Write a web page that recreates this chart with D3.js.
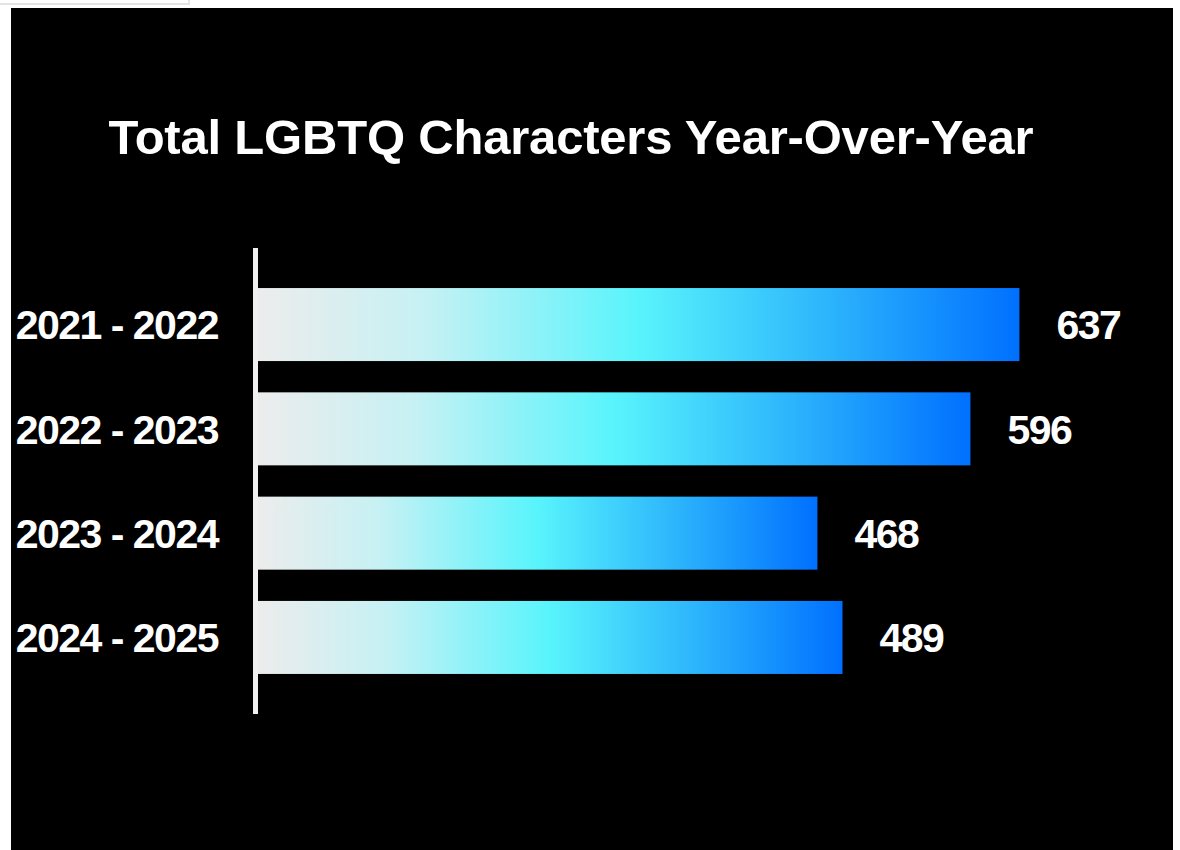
<!DOCTYPE html>
<html lang="en">
<head>
    <meta charset="UTF-8">
    <title>Total LGBTQ Characters Year-Over-Year</title>
    <script src="https://cdnjs.cloudflare.com/ajax/libs/d3/7.8.2/d3.min.js"></script>
    <style>
        body {
            margin: 0;
            padding: 0;
            background-color: #ffffff;
            font-family: "Liberation Sans", Arial, sans-serif;
        }
        .tab {
            position: absolute;
            left: 0;
            top: 0;
            width: 188px;
            height: 3px;
            border-right: 2px solid #e4e4e4;
            border-bottom: 2px solid #e4e4e4;
        }
        svg {
            position: absolute;
            left: 0;
            top: 0;
        }
        .label {
            fill: #ffffff;
            font-weight: 700;
            font-size: 41px;
            letter-spacing: -1.5px;
        }
        .title {
            fill: #ffffff;
            font-weight: 700;
            font-size: 49px;
            letter-spacing: -0.2px;
        }
    </style>
</head>
<body>
    <div class="tab"></div>
    <svg width="1180" height="850"></svg>

    <script>
        // data
        const periods = ["2021 - 2022", "2022 - 2023", "2023 - 2024", "2024 - 2025"];
        const totals = [637, 596, 468, 489];

        const svg = d3.select("svg");

        // black panel
        svg.append("rect")
            .attr("x", 11).attr("y", 8)
            .attr("width", 1162).attr("height", 842)
            .attr("fill", "#000000");

        const defs = svg.append("defs");
        const grad = defs.append("linearGradient")
            .attr("id", "barGrad")
            .attr("x1", "0%").attr("x2", "100%")
            .attr("y1", "0%").attr("y2", "0%");
        grad.append("stop").attr("offset", "0%").attr("stop-color", "#ececec");
        grad.append("stop").attr("offset", "22%").attr("stop-color", "#c6f1f4");
        grad.append("stop").attr("offset", "50%").attr("stop-color", "#58f4fc");
        grad.append("stop").attr("offset", "75%").attr("stop-color", "#2cb4fc");
        grad.append("stop").attr("offset", "100%").attr("stop-color", "#0070ff");

        const x = d3.scaleLinear()
            .domain([0, 640])
            .range([258, 1023]);

        const y = d3.scaleBand()
            .domain(periods)
            .range([248, 714])
            .paddingInner(0.3)
            .paddingOuter(0.384);

        const rows = periods.map((p, i) => ({ period: p, value: totals[i] }));

        // bars
        svg.append("g")
            .selectAll("rect")
            .data(rows)
            .enter().append("rect")
            .attr("x", x(0))
            .attr("y", d => y(d.period))
            .attr("width", d => x(d.value) - x(0))
            .attr("height", y.bandwidth())
            .attr("fill", "url(#barGrad)");

        // axis line
        svg.append("line")
            .attr("x1", 255.5).attr("x2", 255.5)
            .attr("y1", 248).attr("y2", 714)
            .attr("stroke", "#f0f0f0")
            .attr("stroke-width", 5);

        // category labels
        svg.append("g")
            .selectAll("text")
            .data(rows)
            .enter().append("text")
            .attr("class", "label")
            .attr("x", 218)
            .attr("y", d => y(d.period) + y.bandwidth() / 2)
            .attr("dy", "0.36em")
            .attr("text-anchor", "end")
            .text(d => d.period);

        // value labels
        svg.append("g")
            .selectAll("text")
            .data(rows)
            .enter().append("text")
            .attr("class", "label")
            .attr("x", d => x(d.value) + 37)
            .attr("y", d => y(d.period) + y.bandwidth() / 2)
            .attr("dy", "0.36em")
            .text(d => d.value);

        // title
        svg.append("text")
            .attr("class", "title")
            .attr("x", 571)
            .attr("y", 154)
            .attr("text-anchor", "middle")
            .text("Total LGBTQ Characters Year-Over-Year");
    </script>
</body>
</html>
